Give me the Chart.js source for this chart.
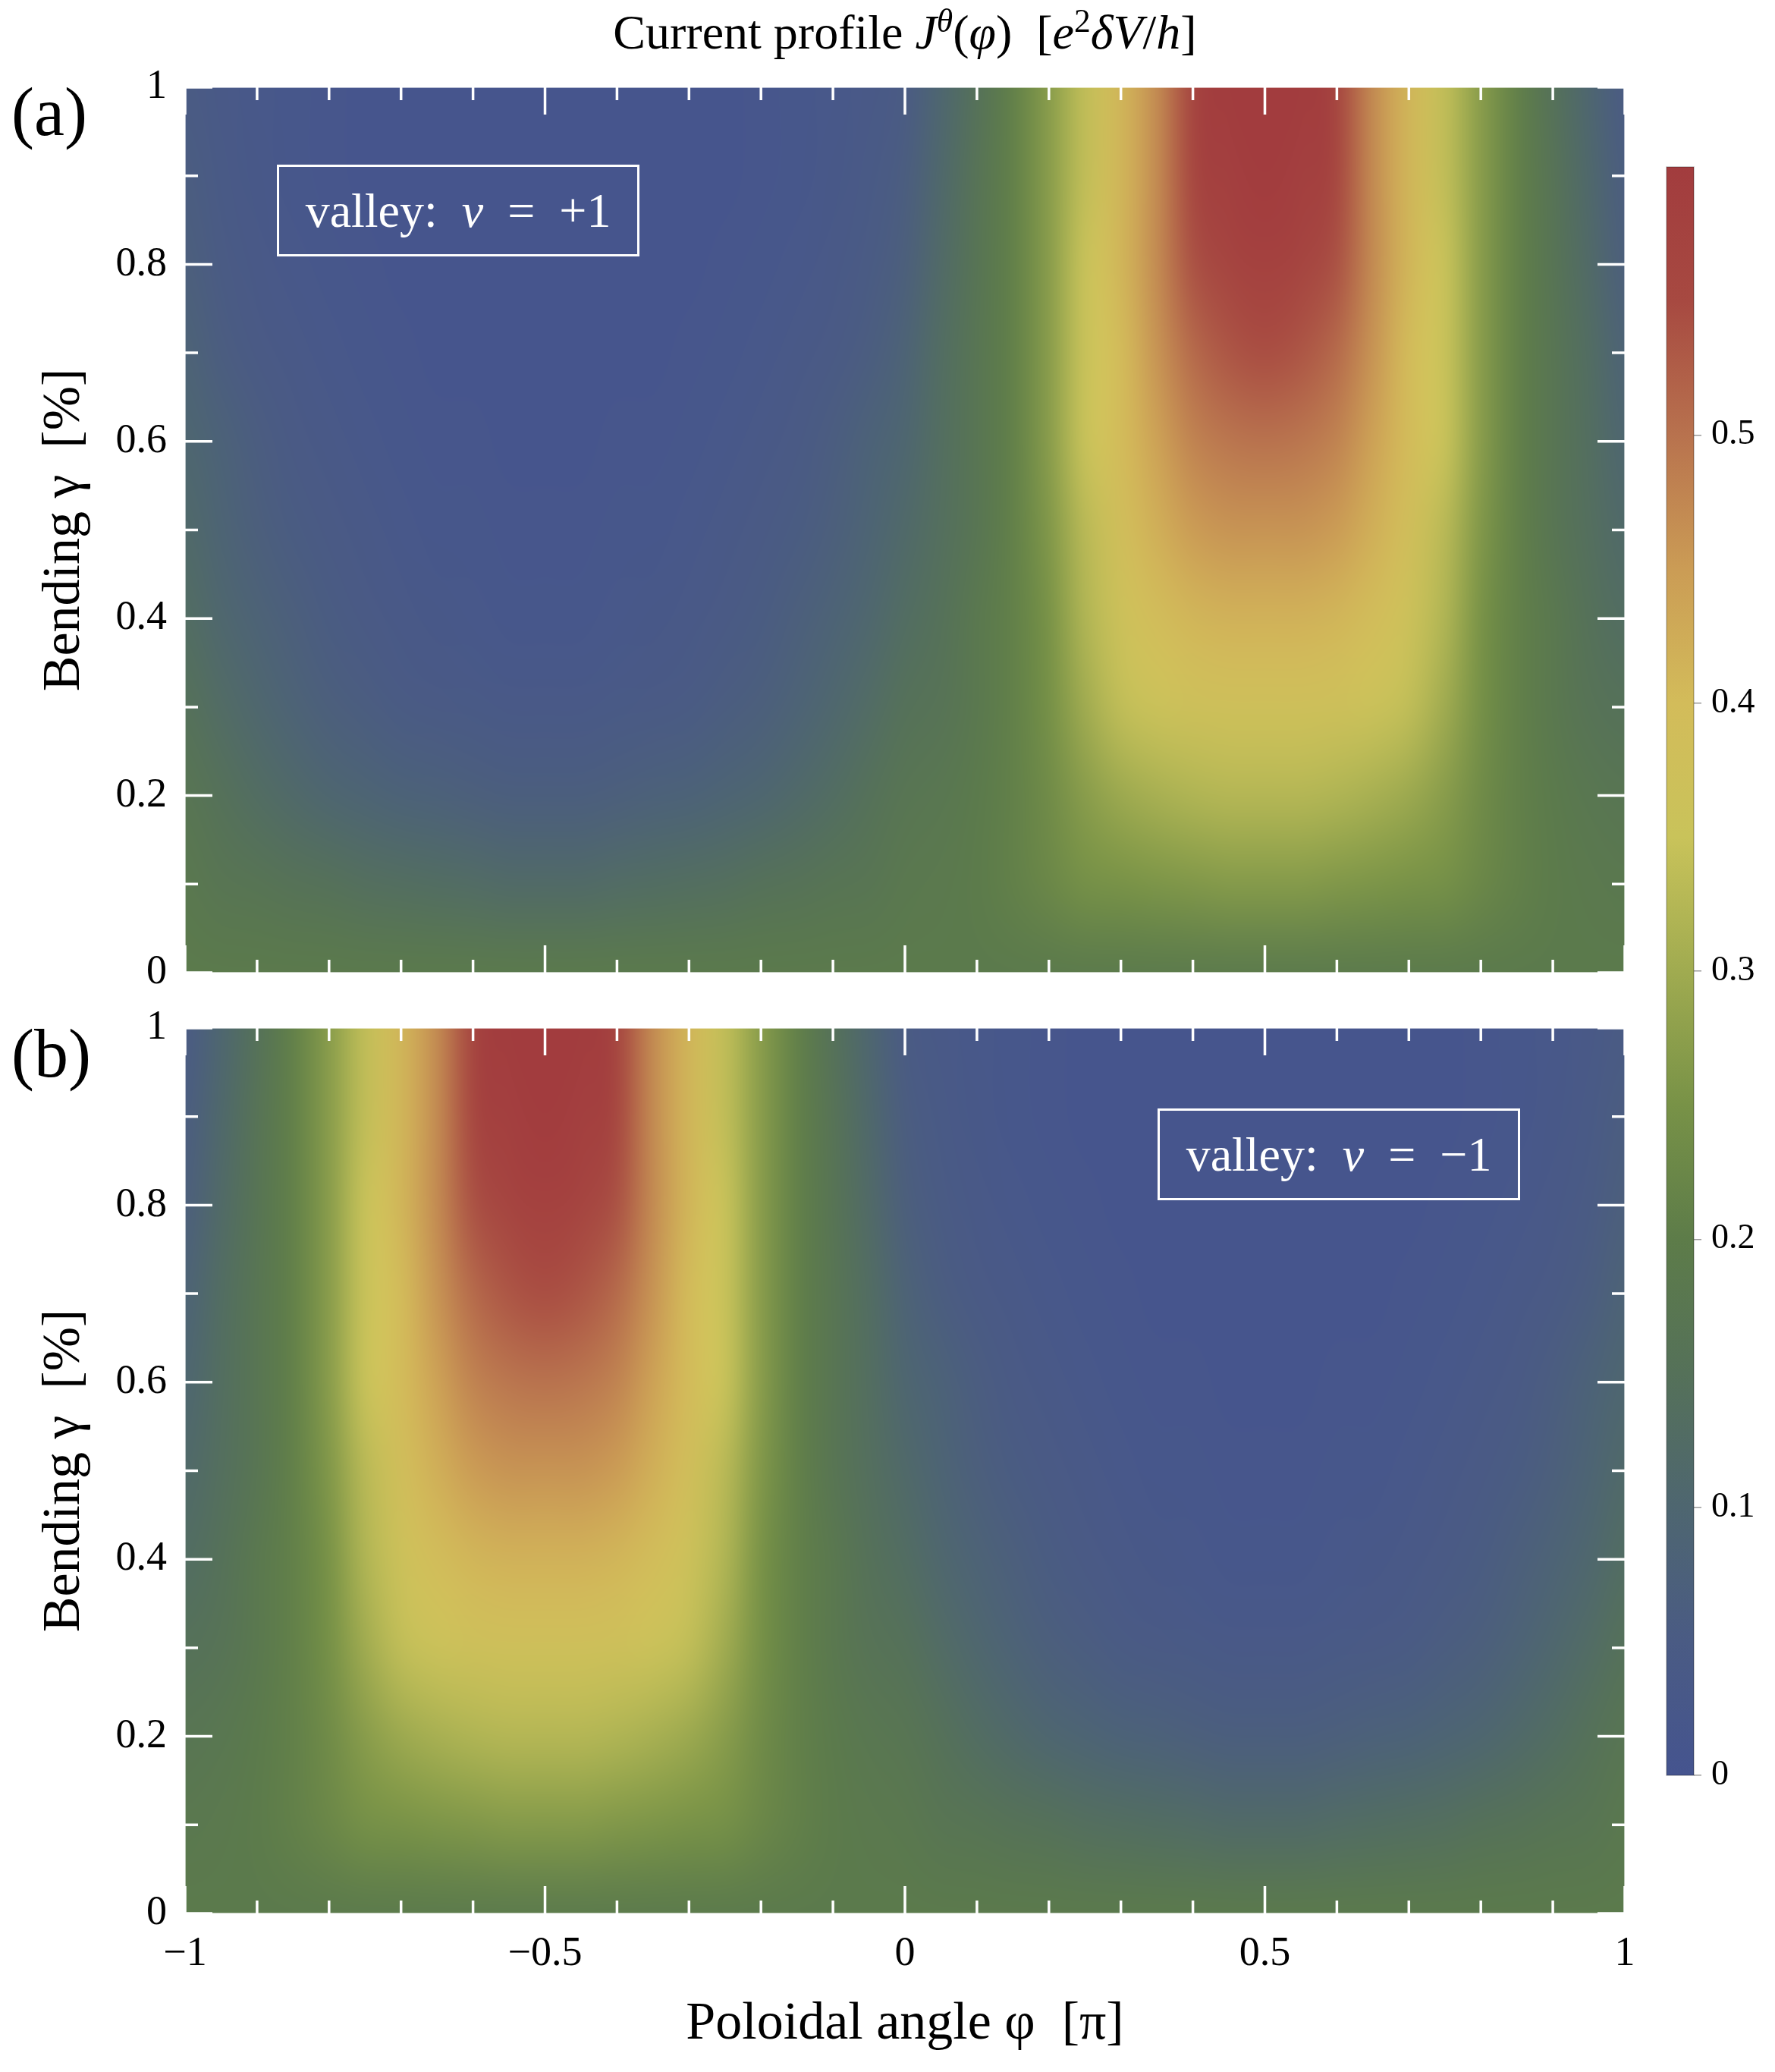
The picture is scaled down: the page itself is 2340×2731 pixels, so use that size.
<!DOCTYPE html>
<html>
<head>
<meta charset="utf-8">
<script src="https://cdn.jsdelivr.net/npm/chart.js@4.4.0/dist/chart.umd.min.js"></script>
<style>
    html, body { margin: 0; padding: 0; background: #fff; }
    body {
        width: 2340px; height: 2731px; position: relative; overflow: hidden;
        font-family: "Liberation Serif", "DejaVu Serif", serif; color: #000;
    }
    canvas { position: absolute; }
    #chartA { left: 0; top: 0; }
    #chartB { left: 0; top: 1300px; }
    #colorbar { left: 2150px; top: 150px; }
    .title {
        position: absolute; left: 244px; width: 1898px; top: 5px;
        text-align: center; font-size: 64px; line-height: 76px; white-space: nowrap;
    }
    .title sup { font-size: 0.68em; line-height: 0; vertical-align: 0.5em; }
    .panel-tag { position: absolute; left: 15px; font-size: 90px; line-height: 1; }
    .valley {
        position: absolute; box-sizing: border-box; width: 478px; height: 121px;
        border: 3px solid #fff; color: #fff; font-size: 64px;
        display: flex; align-items: center; justify-content: center; white-space: nowrap;
    }
</style>
</head>
<body>
<canvas id="chartA" width="2340" height="1340" style="width:2340px;height:1340px"></canvas>
<canvas id="chartB" width="2340" height="1431" style="width:2340px;height:1431px"></canvas>
<canvas id="colorbar" width="190" height="2250" style="width:190px;height:2250px"></canvas>

<div class="title">Current profile&nbsp;<i>J</i><sup><i>θ</i></sup>(<i>φ</i>)&ensp;[<i>e</i><sup>2</sup><i>δV</i>/<i>h</i>]</div>
<div class="panel-tag" style="top:103px">(a)</div>
<div class="panel-tag" style="top:1344px">(b)</div>
<div class="valley" style="left:365px;top:217px">valley:&ensp;<i>ν</i>&ensp;=&ensp;+1</div>
<div class="valley" style="left:1526px;top:1461px">valley:&ensp;<i>ν</i>&ensp;=&ensp;−1</div>

<script>
// Grid
const phiValues = [-1, -0.95, -0.9, -0.85, -0.8, -0.75, -0.7, -0.65, -0.6, -0.55,
    -0.5, -0.45, -0.4, -0.35, -0.3, -0.25, -0.2, -0.15, -0.1, -0.05,
    0, 0.05, 0.1, 0.15, 0.2, 0.25, 0.3, 0.35, 0.4, 0.45,
    0.5, 0.55, 0.6, 0.65, 0.7, 0.75, 0.8, 0.85, 0.9, 0.95, 1];
const gammaValues = [0, 0.1, 0.2, 0.3, 0.4, 0.5, 0.6, 0.7, 0.8, 0.9, 1];

// Tick labels
const phiMajorTicks = [-1, -0.5, 0, 0.5, 1];
const gammaMajorTicks = [0, 0.2, 0.4, 0.6, 0.8, 1];
const colorbarTicks = [0, 0.1, 0.2, 0.3, 0.4, 0.5];

// Current J (e^2 dV/h); rows: bending 0 .. 1, columns: phi -1 .. 1
const currentValleyPlus = [
    [0.19,0.19,0.19,0.19,0.19,0.19,0.19,0.19,0.19,0.19, 0.19, 0.19,0.19,0.19,0.19,0.19,0.19,0.19,0.19,0.19, 0.19, 0.19,0.19,0.19,0.19,0.19,0.19,0.19,0.19,0.19, 0.19, 0.19,0.19,0.19,0.19,0.19,0.19,0.19,0.19,0.19, 0.19],
    [0.18,0.17,0.165,0.155,0.15,0.14,0.135,0.13,0.125,0.12, 0.12, 0.12,0.125,0.13,0.135,0.14,0.15,0.155,0.165,0.17, 0.18, 0.185,0.195,0.21,0.225,0.245,0.25,0.255,0.26,0.265, 0.265, 0.265,0.26,0.255,0.25,0.245,0.225,0.21,0.195,0.185, 0.18],
    [0.17,0.15,0.13,0.115,0.10,0.09,0.08,0.075,0.07,0.065, 0.065, 0.065,0.07,0.075,0.08,0.09,0.10,0.115,0.13,0.15, 0.17, 0.175,0.19,0.21,0.235,0.27,0.295,0.31,0.32,0.325, 0.325, 0.325,0.32,0.31,0.295,0.27,0.235,0.21,0.19,0.175, 0.17],
    [0.15,0.125,0.105,0.085,0.07,0.06,0.05,0.045,0.04,0.035, 0.035, 0.035,0.04,0.045,0.05,0.06,0.07,0.085,0.105,0.125, 0.15, 0.16,0.18,0.21,0.245,0.30,0.34,0.36,0.37,0.375, 0.375, 0.375,0.37,0.36,0.34,0.30,0.245,0.21,0.18,0.16, 0.15],
    [0.13,0.105,0.085,0.07,0.055,0.045,0.035,0.03,0.025,0.02, 0.02, 0.02,0.025,0.03,0.035,0.045,0.055,0.07,0.085,0.105, 0.13, 0.15,0.18,0.21,0.25,0.32,0.365,0.395,0.41,0.415, 0.415, 0.415,0.41,0.395,0.365,0.32,0.25,0.21,0.18,0.15, 0.13],
    [0.115,0.09,0.07,0.055,0.045,0.035,0.025,0.02,0.02,0.015, 0.015, 0.015,0.02,0.02,0.025,0.035,0.045,0.055,0.07,0.09, 0.115, 0.14,0.17,0.21,0.26,0.33,0.385,0.42,0.45,0.46, 0.46, 0.46,0.45,0.42,0.385,0.33,0.26,0.21,0.17,0.14, 0.115],
    [0.10,0.08,0.06,0.045,0.035,0.025,0.02,0.015,0.015,0.01, 0.01, 0.01,0.015,0.015,0.02,0.025,0.035,0.045,0.06,0.08, 0.10, 0.135,0.17,0.21,0.27,0.35,0.40,0.44,0.48,0.495, 0.50, 0.495,0.48,0.44,0.40,0.35,0.27,0.21,0.17,0.135, 0.10],
    [0.085,0.06,0.045,0.035,0.025,0.02,0.015,0.01,0.01,0.01, 0.01, 0.01,0.01,0.01,0.015,0.02,0.025,0.035,0.045,0.06, 0.085, 0.13,0.17,0.21,0.27,0.35,0.40,0.46,0.51,0.535, 0.545, 0.535,0.51,0.46,0.40,0.35,0.27,0.21,0.17,0.13, 0.085],
    [0.07,0.05,0.035,0.025,0.02,0.015,0.01,0.01,0.01,0.01, 0.01, 0.01,0.01,0.01,0.01,0.015,0.02,0.025,0.035,0.05, 0.07, 0.12,0.165,0.21,0.27,0.35,0.41,0.47,0.54,0.57, 0.58, 0.57,0.54,0.47,0.41,0.35,0.27,0.21,0.165,0.12, 0.07],
    [0.06,0.04,0.03,0.02,0.015,0.01,0.01,0.01,0.01,0.01, 0.01, 0.01,0.01,0.01,0.01,0.01,0.015,0.02,0.03,0.04, 0.06, 0.11,0.16,0.21,0.27,0.34,0.41,0.47,0.56,0.59, 0.60, 0.59,0.56,0.47,0.41,0.34,0.27,0.21,0.16,0.11, 0.06],
    [0.05,0.035,0.025,0.02,0.015,0.01,0.01,0.01,0.01,0.01, 0.01, 0.01,0.01,0.01,0.01,0.01,0.015,0.02,0.025,0.035, 0.05, 0.10,0.15,0.21,0.27,0.34,0.41,0.47,0.57,0.60, 0.60, 0.60,0.57,0.47,0.41,0.34,0.27,0.21,0.15,0.10, 0.05]
];

const currentValleyMinus = [
    [0.19,0.19,0.19,0.19,0.19,0.19,0.19,0.19,0.19,0.19, 0.19, 0.19,0.19,0.19,0.19,0.19,0.19,0.19,0.19,0.19, 0.19, 0.19,0.19,0.19,0.19,0.19,0.19,0.19,0.19,0.19, 0.19, 0.19,0.19,0.19,0.19,0.19,0.19,0.19,0.19,0.19, 0.19],
    [0.18, 0.185,0.195,0.21,0.225,0.245,0.25,0.255,0.26,0.265, 0.265, 0.265,0.26,0.255,0.25,0.245,0.225,0.21,0.195,0.185, 0.18, 0.17,0.165,0.155,0.15,0.14,0.135,0.13,0.125,0.12, 0.12, 0.12,0.125,0.13,0.135,0.14,0.15,0.155,0.165,0.17, 0.18],
    [0.17, 0.175,0.19,0.21,0.235,0.27,0.295,0.31,0.32,0.325, 0.325, 0.325,0.32,0.31,0.295,0.27,0.235,0.21,0.19,0.175, 0.17, 0.15,0.13,0.115,0.10,0.09,0.08,0.075,0.07,0.065, 0.065, 0.065,0.07,0.075,0.08,0.09,0.10,0.115,0.13,0.15, 0.17],
    [0.15, 0.16,0.18,0.21,0.245,0.30,0.34,0.36,0.37,0.375, 0.375, 0.375,0.37,0.36,0.34,0.30,0.245,0.21,0.18,0.16, 0.15, 0.125,0.105,0.085,0.07,0.06,0.05,0.045,0.04,0.035, 0.035, 0.035,0.04,0.045,0.05,0.06,0.07,0.085,0.105,0.125, 0.15],
    [0.13, 0.15,0.18,0.21,0.25,0.32,0.365,0.395,0.41,0.415, 0.415, 0.415,0.41,0.395,0.365,0.32,0.25,0.21,0.18,0.15, 0.13, 0.105,0.085,0.07,0.055,0.045,0.035,0.03,0.025,0.02, 0.02, 0.02,0.025,0.03,0.035,0.045,0.055,0.07,0.085,0.105, 0.13],
    [0.115, 0.14,0.17,0.21,0.26,0.33,0.385,0.42,0.45,0.46, 0.46, 0.46,0.45,0.42,0.385,0.33,0.26,0.21,0.17,0.14, 0.115, 0.09,0.07,0.055,0.045,0.035,0.025,0.02,0.02,0.015, 0.015, 0.015,0.02,0.02,0.025,0.035,0.045,0.055,0.07,0.09, 0.115],
    [0.10, 0.135,0.17,0.21,0.27,0.35,0.40,0.44,0.48,0.495, 0.50, 0.495,0.48,0.44,0.40,0.35,0.27,0.21,0.17,0.135, 0.10, 0.08,0.06,0.045,0.035,0.025,0.02,0.015,0.015,0.01, 0.01, 0.01,0.015,0.015,0.02,0.025,0.035,0.045,0.06,0.08, 0.10],
    [0.085, 0.13,0.17,0.21,0.27,0.35,0.40,0.46,0.51,0.535, 0.545, 0.535,0.51,0.46,0.40,0.35,0.27,0.21,0.17,0.13, 0.085, 0.06,0.045,0.035,0.025,0.02,0.015,0.01,0.01,0.01, 0.01, 0.01,0.01,0.01,0.015,0.02,0.025,0.035,0.045,0.06, 0.085],
    [0.07, 0.12,0.165,0.21,0.27,0.35,0.41,0.47,0.54,0.57, 0.58, 0.57,0.54,0.47,0.41,0.35,0.27,0.21,0.165,0.12, 0.07, 0.05,0.035,0.025,0.02,0.015,0.01,0.01,0.01,0.01, 0.01, 0.01,0.01,0.01,0.01,0.015,0.02,0.025,0.035,0.05, 0.07],
    [0.06, 0.11,0.16,0.21,0.27,0.34,0.41,0.47,0.56,0.59, 0.60, 0.59,0.56,0.47,0.41,0.34,0.27,0.21,0.16,0.11, 0.06, 0.04,0.03,0.02,0.015,0.01,0.01,0.01,0.01,0.01, 0.01, 0.01,0.01,0.01,0.01,0.01,0.015,0.02,0.03,0.04, 0.06],
    [0.05, 0.10,0.15,0.21,0.27,0.34,0.41,0.47,0.57,0.60, 0.60, 0.60,0.57,0.47,0.41,0.34,0.27,0.21,0.15,0.10, 0.05, 0.035,0.025,0.02,0.015,0.01,0.01,0.01,0.01,0.01, 0.01, 0.01,0.01,0.01,0.01,0.01,0.015,0.02,0.025,0.035, 0.05]
];

// Colour scale (value -> rgb)
const colorStops = [
    [0.00, [69, 84, 143]],
    [0.05, [74, 91, 132]],
    [0.10, [78, 102, 112]],
    [0.15, [85, 113, 89]],
    [0.20, [93, 124, 73]],
    [0.25, [120, 146, 71]],
    [0.30, [160, 171, 80]],
    [0.35, [201, 195, 90]],
    [0.40, [211, 188, 90]],
    [0.45, [203, 156, 85]],
    [0.50, [184, 114, 78]],
    [0.55, [167, 73, 65]],
    [0.60, [162, 60, 62]]
];

const FONT = "'Liberation Serif', 'DejaVu Serif', serif";
Chart.defaults.font.family = FONT;
Chart.defaults.color = '#000';

function valueToColor(v) {
    const last = colorStops[colorStops.length - 1];
    if (v <= colorStops[0][0]) return colorStops[0][1];
    if (v >= last[0]) return last[1];
    for (let k = 1; k < colorStops.length; k++) {
        const [v1, c1] = colorStops[k];
        if (v <= v1) {
            const [v0, c0] = colorStops[k - 1];
            const t = (v - v0) / (v1 - v0);
            return c0.map((c, i) => Math.round(c + (c1[i] - c) * t));
        }
    }
    return last[1];
}

function isMajor(value, majors) {
    return majors.some(m => Math.abs(m - value) < 1e-6);
}

function formatTick(value, majors) {
    const hit = majors.find(m => Math.abs(m - value) < 1e-6);
    if (hit === undefined) return '';
    return hit < 0 ? '\u2212' + Math.abs(hit) : String(hit);
}

function buildPoints(rows) {
    const points = [];
    gammaValues.forEach((g, j) => {
        phiValues.forEach((p, i) => {
            points.push({ x: p, y: g, v: rows[j][i] });
        });
    });
    return points;
}

// Density image + white inner ticks
const heatmapPlugin = {
    id: 'heatmap',
    beforeDatasetsDraw(chart) {
        const { ctx, chartArea, scales: { x, y } } = chart;
        const points = chart.data.datasets[0].data;
        const nx = phiValues.length;
        const ny = gammaValues.length;

        const off = document.createElement('canvas');
        off.width = nx;
        off.height = ny;
        const octx = off.getContext('2d');
        const img = octx.createImageData(nx, ny);
        points.forEach((p, k) => {
            const i = k % nx;
            const row = ny - 1 - Math.floor(k / nx);
            const c = valueToColor(p.v);
            const o = (row * nx + i) * 4;
            img.data[o] = c[0];
            img.data[o + 1] = c[1];
            img.data[o + 2] = c[2];
            img.data[o + 3] = 255;
        });
        octx.putImageData(img, 0, 0);

        const halfX = (phiValues[1] - phiValues[0]) / 2;
        const halfY = (gammaValues[1] - gammaValues[0]) / 2;
        const left = x.getPixelForValue(phiValues[0] - halfX);
        const right = x.getPixelForValue(phiValues[nx - 1] + halfX);
        const top = y.getPixelForValue(gammaValues[ny - 1] + halfY);
        const bottom = y.getPixelForValue(gammaValues[0] - halfY);

        ctx.save();
        ctx.beginPath();
        ctx.rect(chartArea.left, chartArea.top, chartArea.width, chartArea.height);
        ctx.clip();
        ctx.imageSmoothingEnabled = true;
        ctx.imageSmoothingQuality = 'high';
        ctx.drawImage(off, left, top, right - left, bottom - top);
        ctx.restore();
    },
    afterDatasetsDraw(chart) {
        const { ctx, chartArea: a, scales: { x, y } } = chart;
        ctx.save();
        ctx.strokeStyle = 'rgba(255,255,255,0.6)';
        ctx.lineWidth = 2;
        ctx.strokeRect(a.left, a.top, a.width, a.height);

        ctx.strokeStyle = '#fff';
        ctx.lineWidth = 3.5;
        ctx.beginPath();
        x.ticks.forEach(t => {
            const px = x.getPixelForValue(t.value);
            const len = isMajor(t.value, phiMajorTicks) ? 36 : 17;
            ctx.moveTo(px, a.top);
            ctx.lineTo(px, a.top + len);
            ctx.moveTo(px, a.bottom);
            ctx.lineTo(px, a.bottom - len);
        });
        y.ticks.forEach(t => {
            const py = y.getPixelForValue(t.value);
            const len = isMajor(t.value, gammaMajorTicks) ? 36 : 17;
            ctx.moveTo(a.left, py);
            ctx.lineTo(a.left + len, py);
            ctx.moveTo(a.right, py);
            ctx.lineTo(a.right - len, py);
        });
        ctx.stroke();
        ctx.restore();
    }
};

function createPanel(canvasId, rows, showXAxis, xAxisHeight, topPad) {
    return new Chart(document.getElementById(canvasId), {
        type: 'scatter',
        data: {
            datasets: [{ data: buildPoints(rows), pointRadius: 0, pointHoverRadius: 0 }]
        },
        options: {
            responsive: false,
            animation: false,
            devicePixelRatio: 1,
            events: [],
            layout: { padding: { top: topPad, right: 198, left: 0, bottom: 0 } },
            plugins: { legend: { display: false }, tooltip: { enabled: false } },
            scales: {
                x: {
                    type: 'linear',
                    min: -1,
                    max: 1,
                    grid: { display: false },
                    border: { display: false },
                    ticks: {
                        display: showXAxis,
                        stepSize: 0.1,
                        autoSkip: false,
                        maxRotation: 0,
                        minRotation: 0,
                        padding: 13,
                        color: '#000',
                        font: { family: FONT, size: 54 },
                        callback: v => formatTick(v, phiMajorTicks)
                    },
                    title: {
                        display: showXAxis,
                        text: 'Poloidal angle φ  [π]',
                        color: '#000',
                        font: { family: FONT, size: 70 },
                        padding: { top: 0, bottom: 20 }
                    },
                    afterFit: s => { s.height = xAxisHeight; }
                },
                y: {
                    type: 'linear',
                    min: 0,
                    max: 1,
                    grid: { display: false },
                    border: { display: false },
                    ticks: {
                        stepSize: 0.1,
                        autoSkip: false,
                        padding: 16,
                        color: '#000',
                        font: { family: FONT, size: 54 },
                        callback: v => formatTick(v, gammaMajorTicks)
                    },
                    title: {
                        display: true,
                        text: 'Bending γ  [%]',
                        color: '#000',
                        font: { family: FONT, size: 70 },
                        padding: { top: 44, bottom: 0 }
                    },
                    afterFit: s => { s.width = 244; }
                }
            }
        },
        plugins: [heatmapPlugin]
    });
}

// Colour bar gradient
const colorbarPlugin = {
    id: 'colorbarFill',
    beforeDatasetsDraw(chart) {
        const { ctx, chartArea: a, scales: { y } } = chart;
        const y0 = y.getPixelForValue(y.min);
        const y1 = y.getPixelForValue(y.max);
        const grad = ctx.createLinearGradient(0, y0, 0, y1);
        colorStops.forEach(([v, c]) => {
            const t = (y.getPixelForValue(v) - y0) / (y1 - y0);
            grad.addColorStop(Math.min(1, Math.max(0, t)), `rgb(${c[0]},${c[1]},${c[2]})`);
        });
        ctx.save();
        ctx.fillStyle = grad;
        ctx.fillRect(a.left, a.top, a.width, a.height);
        ctx.strokeStyle = 'rgba(0,0,0,0.25)';
        ctx.lineWidth = 1.5;
        ctx.strokeRect(a.left, a.top, a.width, a.height);
        ctx.restore();
    }
};

function createColorbar() {
    return new Chart(document.getElementById('colorbar'), {
        type: 'scatter',
        data: { datasets: [{ data: [], pointRadius: 0 }] },
        options: {
            responsive: false,
            animation: false,
            devicePixelRatio: 1,
            events: [],
            layout: { padding: { top: 70, bottom: 60, left: 47, right: 0 } },
            plugins: { legend: { display: false }, tooltip: { enabled: false } },
            scales: {
                x: { type: 'linear', display: false, min: 0, max: 1 },
                y: {
                    type: 'linear',
                    position: 'right',
                    min: 0,
                    max: 0.6,
                    grid: {
                        display: true,
                        drawOnChartArea: false,
                        drawTicks: true,
                        tickLength: 10,
                        color: '#9a9a9a',
                        lineWidth: 1.5
                    },
                    border: { display: false },
                    afterBuildTicks: s => { s.ticks = colorbarTicks.map(v => ({ value: v })); },
                    ticks: {
                        padding: 13,
                        color: '#000',
                        font: { family: FONT, size: 46 },
                        callback: v => formatTick(v, colorbarTicks)
                    },
                    afterFit: s => { s.width = 107; }
                }
            }
        },
        plugins: [colorbarPlugin]
    });
}

createPanel('chartA', currentValleyPlus, false, 58, 115);
createPanel('chartB', currentValleyMinus, true, 209, 55);
createColorbar();
</script>
</body>
</html>
